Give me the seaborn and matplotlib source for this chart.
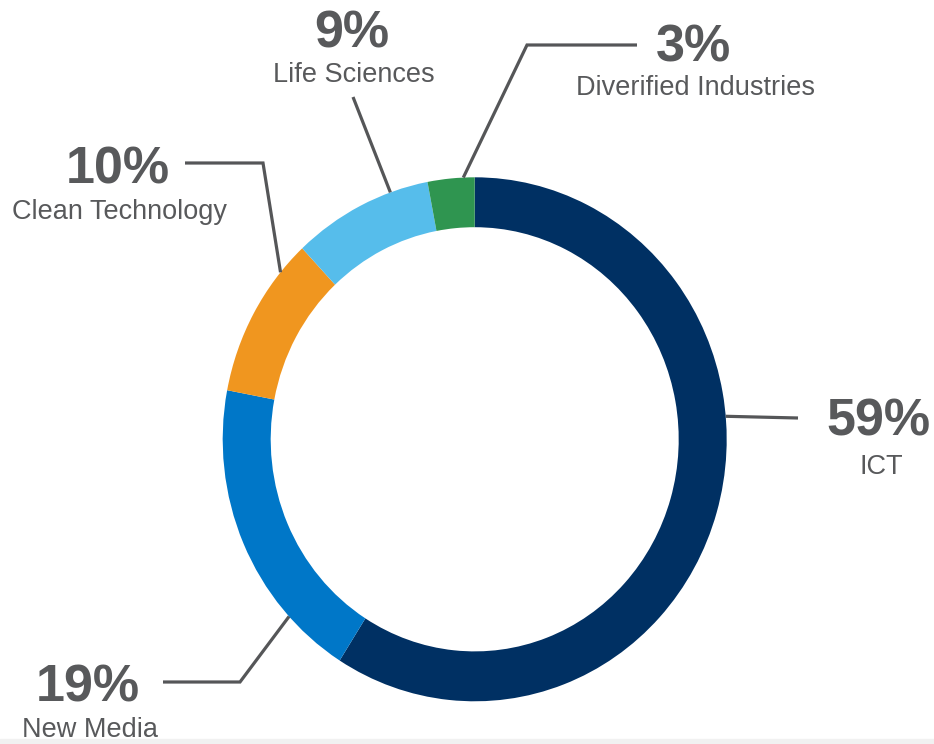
import numpy as np
import matplotlib
matplotlib.use("Agg")
import matplotlib.pyplot as plt
import seaborn as sns

# Sector shares (percent), clockwise from 12 o'clock
sectors = ["ICT", "New Media", "Clean Technology", "Life Sciences", "Diverified Industries"]
shares = [59, 19, 10, 9, 3]
pct_labels = ["59%", "19%", "10%", "9%", "3%"]
ring_colors = ["#003063", "#0077c8", "#f0961f", "#56bdeb", "#2f9550"]

W, H = 934, 744
SY = 262 / 252            # ring is drawn slightly taller than wide
TEXT = "#58595b"
LINE = "#555658"

sns.set_theme(style="white")
plt.rcParams["font.family"] = ["Liberation Sans", "DejaVu Sans"]

fig = plt.figure(figsize=(W / 100, H / 100), dpi=100)
ax = fig.add_axes([0, 0, 1, 1])
ax.set_zorder(1)


def P(x, y):
    """Pixel position (from top-left) -> axes data position."""
    return x, (H - y) / SY


palette = sns.color_palette(ring_colors)
cx, cy = P(474.7, 439.3)
R = 252
wedges, _ = ax.pie(
    shares, colors=palette, startangle=90, counterclock=False,
    radius=R, center=(cx, cy),
    wedgeprops=dict(width=48, edgecolor="none", linewidth=0),
)
ax.set_aspect("auto")
ax.set_xlim(0, W)
ax.set_ylim(0, H / SY)
ax.axis("off")

# thin grey strip along the bottom edge, behind everything
fig.patches.append(plt.Rectangle((0, 0), 1, 5 / H, transform=fig.transFigure,
                                 color="#f1f1f1", zorder=0))

# Callout layout: where on the wedge the leader starts (fraction along the
# wedge, clockwise), the elbow and end of the leader, and text baselines.
callouts = {
    "ICT": dict(frac=0.40, elbow=None, end=(798, 418),
                pct=(878, 436), name=(881, 474)),
    "New Media": dict(frac=0.22, elbow=(240, 682), end=(163, 682),
                      pct=(88, 702), name=(90, 737)),
    "Clean Technology": dict(frac=0.80, elbow=(263, 163), end=(185, 163),
                             pct=(118, 184), name=(119, 219)),
    "Life Sciences": dict(frac=0.73, elbow=None, end=(353, 97),
                          pct=(352, 47), name=(354, 82)),
    "Diverified Industries": dict(frac=0.76, elbow=(527, 45), end=(637, 45),
                                  pct=(693, 62), name=(695, 95)),
}

for wedge, sector, pct in zip(wedges, sectors, pct_labels):
    c = callouts[sector]
    t1, t2 = wedge.theta1, wedge.theta2
    a = np.deg2rad(t2 - c["frac"] * (t2 - t1))
    start = (cx + R * np.cos(a), cy + R * np.sin(a))
    pts = [start]
    if c["elbow"] is not None:
        pts.append(P(*c["elbow"]))
    pts.append(P(*c["end"]))
    xs, ys = zip(*pts)
    ax.plot(xs, ys, color=LINE, lw=2.3, solid_capstyle="butt",
            solid_joinstyle="miter", zorder=3)

    ax.text(*P(*c["pct"]), pct, ha="center", va="baseline",
            fontsize=37.5, fontweight="bold", color=TEXT)
    ax.text(*P(*c["name"]), sector, ha="center", va="baseline",
            fontsize=19.5, color=TEXT)

fig.savefig("out.png", dpi=100, facecolor="white")
